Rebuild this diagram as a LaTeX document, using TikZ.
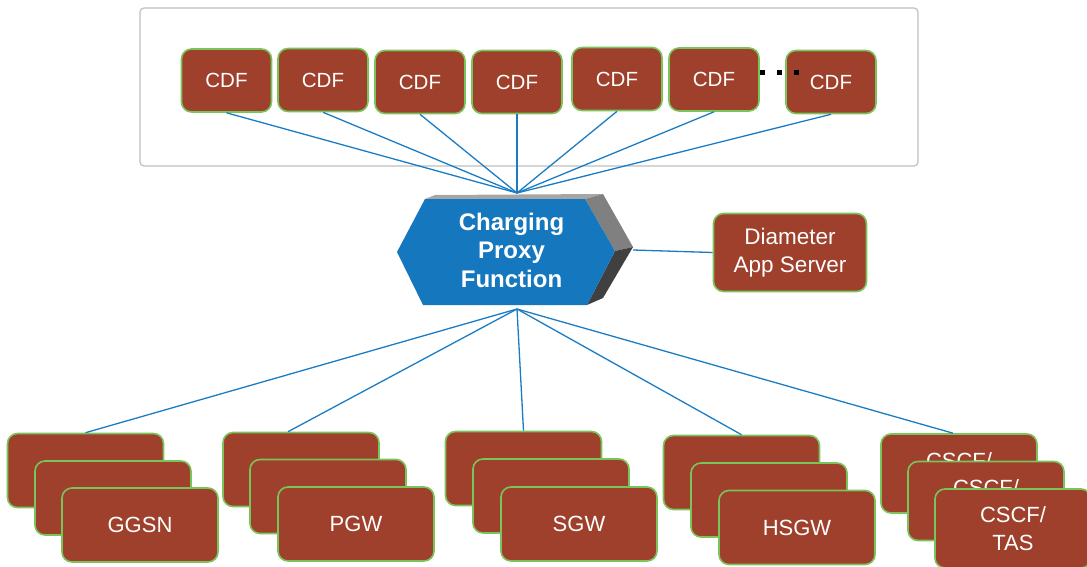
\documentclass[tikz,border=0pt]{standalone}
\usepackage{fontspec}
\setmainfont{Liberation Sans}
\usepackage{tikz}
\usetikzlibrary{positioning}

\definecolor{cardfill}{RGB}{158,64,43}
\definecolor{cardline}{RGB}{122,196,92}
\definecolor{linkblue}{RGB}{26,125,196}
\definecolor{hexblue}{RGB}{21,119,189}
\definecolor{hextop}{RGB}{166,166,166}
\definecolor{hexside}{RGB}{128,128,128}
\definecolor{hexdark}{RGB}{64,64,64}
\definecolor{frameline}{RGB}{191,191,191}

\begin{document}
\begin{tikzpicture}[x=1pt, y=-1pt,
            card/.style = {rectangle, rounded corners=10pt, draw=cardline, line width=1.6pt, fill=cardfill, text=white, align=center, inner sep=0pt},
            cdf/.style = {card, minimum width=90pt, minimum height=63pt, font=\fontsize{20.5}{24}\selectfont},
            gw/.style = {card, minimum width=156pt, minimum height=74pt, font=\fontsize{22}{28}\selectfont},
            link/.style = {draw=linkblue, line width=1.3pt},
        ]
            \useasboundingbox (0,0) rectangle (1087,567);

            % Frame round the CDFs
            \draw[frameline, line width=1.2pt, rounded corners=4pt] (140,8) rectangle (918,166);

            % Hub points of the proxy
            \coordinate (hubtop) at (517,193);
            \coordinate (hubbot) at (517,309);
            \coordinate (hubright) at (633,250);

            % CDF nodes
            \node[cdf] (cdf1) at (226.5,80.5) {CDF};
            \node[cdf] (cdf2) at (323,80) {CDF};
            \node[cdf] (cdf3) at (420,82) {CDF};
            \node[cdf] (cdf4) at (517,82) {CDF};
            \node[cdf] (cdf5) at (617,79) {CDF};
            \node[cdf] (cdf6) at (714,79.5) {CDF};
            \node[cdf] (cdf7) at (831,82) {CDF};

            % Links from the CDFs down to the proxy
            \foreach \i in {1,...,7}
                \draw[link] (cdf\i.south) -- (hubtop);

            % Dots between the last two CDFs
            \foreach \x in {762,779,796}
                \fill[black] (\x-2.5,70.5) rectangle ++(5,5);

            % Charging proxy function (3D hexagon)
            \fill[hextop] (425,199) -- (435,195) -- (603,194) -- (585,199) -- cycle;
            \fill[hexside] (585,199) -- (603,194) -- (633,247) -- (615,251) -- cycle;
            \fill[hexdark] (615,251) -- (633,247) -- (603,298) -- (587,305) -- cycle;
            \fill[hexblue] (397,252) -- (425,199) -- (585,199) -- (615,251) -- (587,305) -- (423,305) -- cycle;
            \node[text=white, align=center, font=\bfseries\fontsize{24}{28.5}\selectfont] (cpf) at (511.5,250) {Charging\\Proxy\\Function};

            % Diameter application server
            \node[card, minimum width=153pt, minimum height=78pt, font=\fontsize{22.5}{28}\selectfont] (das) at (790,252.5) {Diameter\\App Server};
            \draw[link] (hubright) -- (das.west);

            % Gateway stacks (back, middle, front)
            \node[gw] (ggsnA) at (85.5,470.5) {};
            \node[gw] (ggsnB) at (113,498) {};
            \node[gw] (ggsnC) at (140,525) {GGSN};

            \node[gw] (pgwA) at (301,469.5) {};
            \node[gw] (pgwB) at (328,496.5) {};
            \node[gw] (pgwC) at (356,524) {PGW};

            \node[gw] (sgwA) at (523.5,468.5) {};
            \node[gw] (sgwB) at (551,496) {};
            \node[gw] (sgwC) at (579,524) {SGW};

            \node[gw] (hsgwA) at (741.5,472.5) {};
            \node[gw] (hsgwB) at (769,500) {};
            \node[gw] (hsgwC) at (797,527.5) {HSGW};

            % back CSCF cards only show the top of their first line
            \node[gw, minimum height=79pt, text height=16pt, text depth=27pt] (cscfA) at (959,473.5) {CSCF/};
            \node[gw, minimum height=79pt, text height=16pt, text depth=27pt] (cscfB) at (986,501) {CSCF/};
            \node[gw, minimum height=79pt] (cscfC) at (1013,528.5) {CSCF/\\TAS};

            % Links from the proxy down to the gateways
            \draw[link] (hubbot) -- (ggsnA.north);
            \draw[link] (hubbot) -- ([xshift=-13pt]pgwA.north);
            \draw[link] (hubbot) -- (sgwA.north);
            \draw[link] (hubbot) -- (hsgwA.north);
            \draw[link] (hubbot) -- ([xshift=-6pt]cscfA.north);
\end{tikzpicture}
\end{document}
